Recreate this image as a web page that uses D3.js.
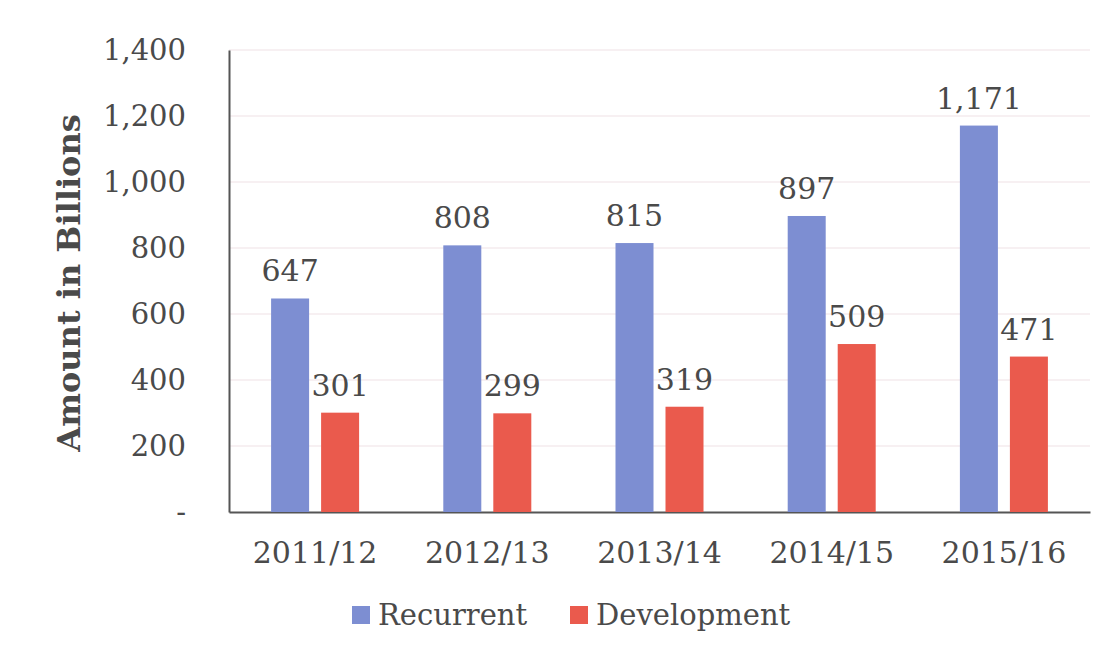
<!DOCTYPE html>
<html><head><meta charset="utf-8">
<script src="https://cdn.jsdelivr.net/npm/d3@7"></script>
<style>body{margin:0;background:#fff;}text{font-family:"DejaVu Serif",serif;fill:#4a4a4a;}</style>
</head><body>
<svg id="c" width="1108" height="652"></svg>
<script>
const categories = ["2011/12","2012/13","2013/14","2014/15","2015/16"];
const recurrent = [647, 808, 815, 897, 1171];
const development = [301, 299, 319, 509, 471];
const seriesNames = ["Recurrent","Development"];
const yTicks = [0,200,400,600,800,1000,1200,1400];
const colors = ["#7d8ed2","#ea5a4d"];

const svg = d3.select("#c");
const mLeft = 229, mRight = 1090, mTop = 50, mBottom = 512;
const x = d3.scaleBand().domain(categories).range([mLeft, mRight]).paddingInner(0).paddingOuter(0);
const y = d3.scaleLinear().domain([0,1400]).range([mBottom, mTop]);
const barW = 38, gap = 12;

// gridlines
svg.append("g").selectAll("line").data(yTicks.filter(d=>d>0)).join("line")
  .attr("x1", mLeft).attr("x2", mRight).attr("y1", d=>y(d)).attr("y2", d=>y(d))
  .attr("stroke", "#f0e2e6").attr("stroke-width", 1.2);

// y axis
const yAxis = d3.axisLeft(y).tickValues(yTicks).tickSize(0).tickPadding(43)
  .tickFormat(d => d === 0 ? "-" : d3.format(",")(d));
const ga = svg.append("g").attr("transform", `translate(${mLeft},0)`).call(yAxis);
ga.select(".domain").attr("stroke", "#555").attr("stroke-width", 2);
ga.selectAll("text").style("font-size", "29px").attr("fill", "#4a4a4a");

// x axis
const xAxis = d3.axisBottom(x).tickSize(0).tickPadding(30);
const gx = svg.append("g").attr("transform", `translate(0,${mBottom})`).call(xAxis);
gx.select(".domain").attr("stroke", "#555").attr("stroke-width", 2);
gx.selectAll("text").style("font-size", "30px").attr("fill", "#4a4a4a");

const series = [recurrent, development];
series.forEach((vals, si) => {
  const g = svg.append("g");
  const xpos = (c) => x(c) + x.bandwidth()/2 + (si === 0 ? -gap/2 - barW : gap/2);
  g.selectAll("rect").data(categories).join("rect")
    .attr("x", c => xpos(c))
    .attr("y", (c,i) => y(vals[i]))
    .attr("width", barW)
    .attr("height", (c,i) => y(0) - y(vals[i]))
    .attr("fill", colors[si]);
  g.selectAll("text").data(categories).join("text")
    .attr("x", c => xpos(c) + barW/2)
    .attr("y", (c,i) => y(vals[i]) - 17)
    .attr("text-anchor", "middle")
    .style("font-size", "30px")
    .text((c,i) => d3.format(",")(vals[i]));
});

// y title
svg.append("text")
  .attr("transform", `translate(80,${(mTop+mBottom)/2 + 2}) rotate(-90)`)
  .attr("text-anchor", "middle")
  .style("font-size", "32px").style("font-weight", "bold").attr("fill", "#3a3a3a")
  .text("Amount in Billions");

// legend
const legendX = [352, 570];
const lg = svg.append("g");
seriesNames.forEach((n, i) => {
  lg.append("rect").attr("x", legendX[i]).attr("y", 606).attr("width", 18).attr("height", 18).attr("fill", colors[i]);
  lg.append("text").attr("x", legendX[i] + 26).attr("y", 625).style("font-size", "29px").text(n);
});
</script>
</body></html>
